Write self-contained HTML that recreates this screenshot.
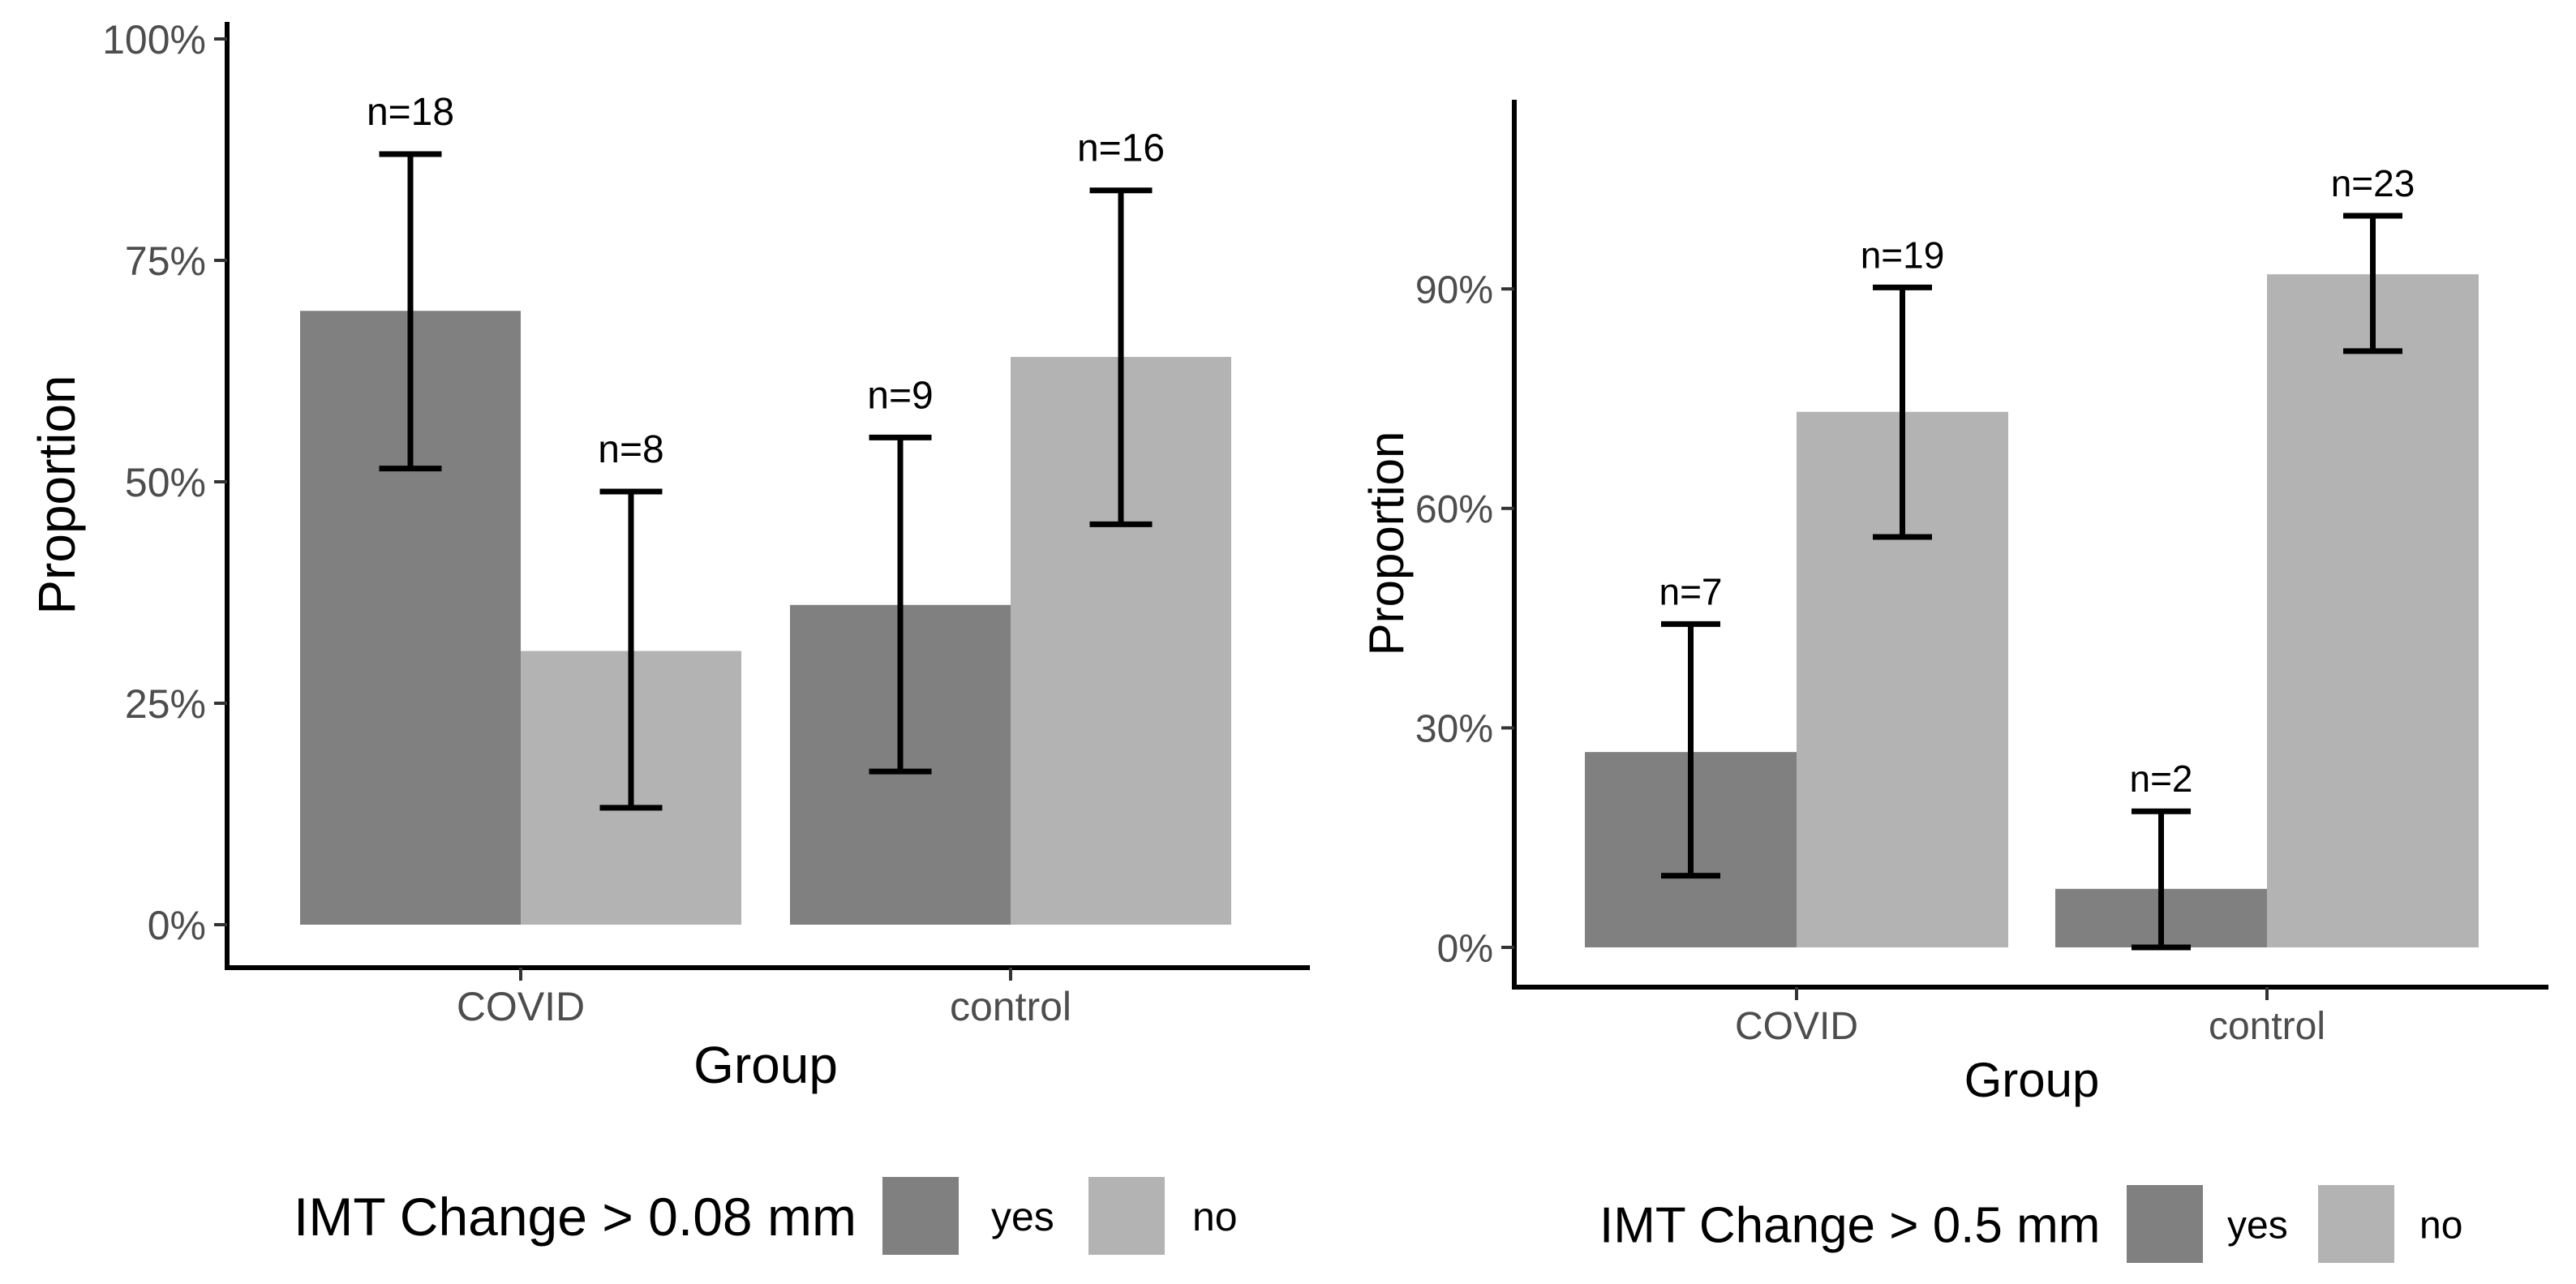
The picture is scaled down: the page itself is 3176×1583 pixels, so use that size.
<!DOCTYPE html>
<html><head><meta charset="utf-8"><style>
html,body{margin:0;padding:0;background:#fff;}
svg{display:block;font-family:"Liberation Sans",sans-serif;}
</style></head><body>
<svg id="chart" width="3176" height="1583" viewBox="0 0 3176 1583" xmlns="http://www.w3.org/2000/svg"></svg>
<script>
const groups = ["COVID","control"];
const leftYes = [69.3, 36.1];
const leftNo = [30.9, 64.1];
const leftYesLo = [51.5, 17.3];
const leftYesHi = [87.0, 55.0];
const leftNoLo = [13.2, 45.2];
const leftNoHi = [48.9, 82.9];
const leftYesN = ["n=18","n=9"];
const leftNoN = ["n=8","n=16"];
const leftTicks = [0,25,50,75,100];
const leftTickLabels = ["0%","25%","50%","75%","100%"];

const rightYes = [26.7, 8.0];
const rightNo = [73.2, 92.0];
const rightYesLo = [9.8, 0.0];
const rightYesHi = [44.2, 18.6];
const rightNoLo = [56.1, 81.5];
const rightNoHi = [90.2, 100.0];
const rightYesN = ["n=7","n=2"];
const rightNoN = ["n=19","n=23"];
const rightTicks = [0,30,60,90];
const rightTickLabels = ["0%","30%","60%","90%"];

const NS="http://www.w3.org/2000/svg";
const svg=document.getElementById('chart');
function mk(tag,attrs,parent){const e=document.createElementNS(NS,tag);for(const k in attrs)e.setAttribute(k,attrs[k]);(parent||svg).appendChild(e);return e;}

function panel(p){
  const g=mk('g',{});
  
  
  const y=v=>p.y0-(v)*p.pxPer;
  const series=[["yes",p.yes,p.yesLo,p.yesHi,p.yesN,"#808080"],["no",p.no,p.noLo,p.noHi,p.noN,"#b3b3b3"]];
  groups.forEach((grp,gi)=>{
    series.forEach((s,si)=>{
      const x0=p.gx[gi]+(si-1)*p.bw;
      const r=mk('rect',{x:x0,y:y(s[1][gi]),width:p.bw,height:y(0)-y(s[1][gi]),fill:s[5]},g);
      
      
    });
  });
  groups.forEach((grp,gi)=>{
    series.forEach((s,si)=>{
      const cx=p.gx[gi]+(si-0.5)*p.bw;
      const eb=mk('g',{stroke:'#000','stroke-width':p.sw,fill:'none'},g);
      
      
      mk('line',{x1:cx,x2:cx,y1:y(s[2][gi]),y2:y(s[3][gi])},eb);
      mk('line',{x1:cx-p.cap/2,x2:cx+p.cap/2,y1:y(s[2][gi]),y2:y(s[2][gi])},eb);
      mk('line',{x1:cx-p.cap/2,x2:cx+p.cap/2,y1:y(s[3][gi]),y2:y(s[3][gi])},eb);
      const t=mk('text',{x:cx,y:y(s[3][gi])-p.nOff,'text-anchor':'middle','font-size':p.nFs,fill:'#000'},g);
      t.textContent=s[4][gi];
      
      
    });
  });
  const ax=mk('g',{stroke:'#000','stroke-width':6,fill:'none'},g);
  
  
  mk('polyline',{points:`${p.ax},${p.axTop} ${p.ax},${p.axY} ${p.axRight},${p.axY}`},ax);
  p.ticks.forEach((tv,i)=>{
    mk('line',{x1:p.ax-16,x2:p.ax,y1:y(tv),y2:y(tv),'stroke-width':4,stroke:'#333'},g);
    const t=mk('text',{x:p.ax-26,y:y(tv)+p.tFs*0.36,'text-anchor':'end','font-size':p.tFs,fill:'#4d4d4d'},g);
    t.textContent=p.tickLabels[i];
    
    
  });
  groups.forEach((grp,gi)=>{
    mk('line',{x1:p.gx[gi],x2:p.gx[gi],y1:p.axY,y2:p.axY+16,'stroke-width':4,stroke:'#333'},g);
    const t=mk('text',{x:p.gx[gi],y:p.xLabY,'text-anchor':'middle','font-size':p.tFs,fill:'#4d4d4d'},g);
    t.textContent=grp;
    
    
  });
  const xt=mk('text',{x:(p.gx[0]+p.gx[1])/2,y:p.xTitleY,'text-anchor':'middle','font-size':p.titFs,fill:'#000'},g);
  xt.textContent='Group';
  
  
  const yt=mk('text',{x:0,y:0,'text-anchor':'middle','font-size':p.titFs,fill:'#000',transform:`translate(${p.yTitleX},${p.yTitleY}) rotate(-90)`},g);
  yt.textContent='Proportion';
  
  
  const lg=mk('g',{},g);
  
  
  const lt=mk('text',{x:p.legX,y:p.legY+p.legFs*0.36,'font-size':p.legFs,fill:'#000'},lg);
  lt.textContent=p.legTitle;
  
  
  [["yes","#808080",p.k1,p.l1],["no","#b3b3b3",p.k2,p.l2]].forEach(k=>{
    const r=mk('rect',{x:k[2],y:p.legY-48,width:94,height:96,fill:k[1]},lg);
    
    
    const t=mk('text',{x:k[3],y:p.legY+p.tFs*0.36,'font-size':p.tFs,fill:'#000'},lg);
    t.textContent=k[0];
    
    
  });
}

panel({name:'left-panel',y0:1140,pxPer:10.92,gx:[642,1246],bw:272,sw:7,cap:77,nOff:36,nFs:48,
  yes:leftYes,no:leftNo,yesLo:leftYesLo,yesHi:leftYesHi,noLo:leftNoLo,noHi:leftNoHi,yesN:leftYesN,noN:leftNoN,
  ticks:leftTicks,tickLabels:leftTickLabels,ax:280,axTop:27,axY:1193,axRight:1615,tFs:50,xLabY:1258,
  titFs:64,xTitleY:1335,yTitleX:92,yTitleY:610,legFs:66,legY:1499,legX:362,legTitle:'IMT Change > 0.08 mm',
  k1:1088,l1:1222,k2:1342,l2:1470});
panel({name:'right-panel',y0:1168,pxPer:9.02,gx:[2215,2795],bw:261,sw:7,cap:73,nOff:24,nFs:46,
  yes:rightYes,no:rightNo,yesLo:rightYesLo,yesHi:rightYesHi,noLo:rightNoLo,noHi:rightNoHi,yesN:rightYesN,noN:rightNoN,
  ticks:rightTicks,tickLabels:rightTickLabels,ax:1867,axTop:123,axY:1217,axRight:3142,tFs:48,xLabY:1281,
  titFs:60,xTitleY:1352,yTitleX:1730,yTitleY:670,legFs:62,legY:1509,legX:1972,legTitle:'IMT Change > 0.5 mm',
  k1:2622,l1:2746,k2:2858,l2:2983});
</script>
</body></html>
